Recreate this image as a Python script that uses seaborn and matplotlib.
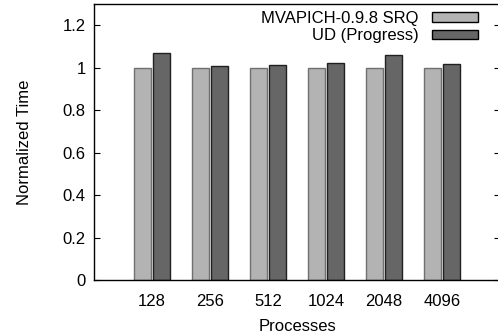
import matplotlib
matplotlib.use("Agg")
import matplotlib.pyplot as plt
import seaborn as sns
import pandas as pd
from matplotlib.patches import Patch

processes = ["128", "256", "512", "1024", "2048", "4096"]
series_names = ["MVAPICH-0.9.8 SRQ", "UD (Progress)"]
srq_values = [1.0, 1.0, 1.0, 1.0, 1.0, 1.0]
ud_values = [1.07, 1.01, 1.014, 1.02, 1.06, 1.017]
yticks = [0, 0.2, 0.4, 0.6, 0.8, 1.0, 1.2]
ytick_labels = ["0", "0.2", "0.4", "0.6", "0.8", "1", "1.2"]
colors = ["#b3b3b3", "#666666"]
edges = ["#707070", "#202020"]

sns.set_style("ticks")
plt.rcParams["font.family"] = ["Liberation Sans", "DejaVu Sans"]
plt.rcParams["font.size"] = 12
plt.rcParams["text.color"] = "black"
plt.rcParams["axes.labelcolor"] = "black"
plt.rcParams["xtick.color"] = "black"
plt.rcParams["ytick.color"] = "black"

df = pd.DataFrame({
    "Processes": processes * 2,
    "Time": srq_values + ud_values,
    "Series": [series_names[0]] * len(processes) + [series_names[1]] * len(processes),
})

fig = plt.figure(figsize=(4.98, 3.36), dpi=100)
ax = fig.add_axes([94 / 498, 56 / 336, 406 / 498, 276 / 336])

sns.barplot(data=df, x="Processes", y="Time", hue="Series", order=processes,
            hue_order=series_names, palette=colors, width=0.65, gap=0.1,
            saturation=1, ax=ax, legend=False, errorbar=None)

for i, cont in enumerate(ax.containers):
    for bar in cont:
        bar.set_edgecolor(edges[i])
        bar.set_linewidth(1.0)

ax.set_xlim(-1, 6)
ax.set_ylim(0, 1.3)
ax.set_yticks(yticks)
ax.set_yticklabels(ytick_labels)
ax.tick_params(axis="y", direction="in", length=4, width=0.8, right=True, left=True, pad=6)
ax.tick_params(axis="x", length=0, pad=10)
for s in ["left", "bottom", "top", "right"]:
    ax.spines[s].set_visible(True)
    ax.spines[s].set_linewidth(1.0)
    ax.spines[s].set_color("black")
ax.set_xlabel("Processes", labelpad=7)
ax.set_ylabel("Normalized Time", labelpad=22)

handles = [Patch(facecolor=colors[i], edgecolor="black", linewidth=1.0) for i in range(2)]
ax.legend(handles, series_names, loc="upper right", bbox_to_anchor=(0.946, 0.975),
          frameon=False, markerfirst=False, handlelength=2.75, handleheight=0.5,
          handletextpad=0.8, labelspacing=0.15, borderpad=0, borderaxespad=0,
          fontsize=12)

fig.savefig("out.png", dpi=100)
